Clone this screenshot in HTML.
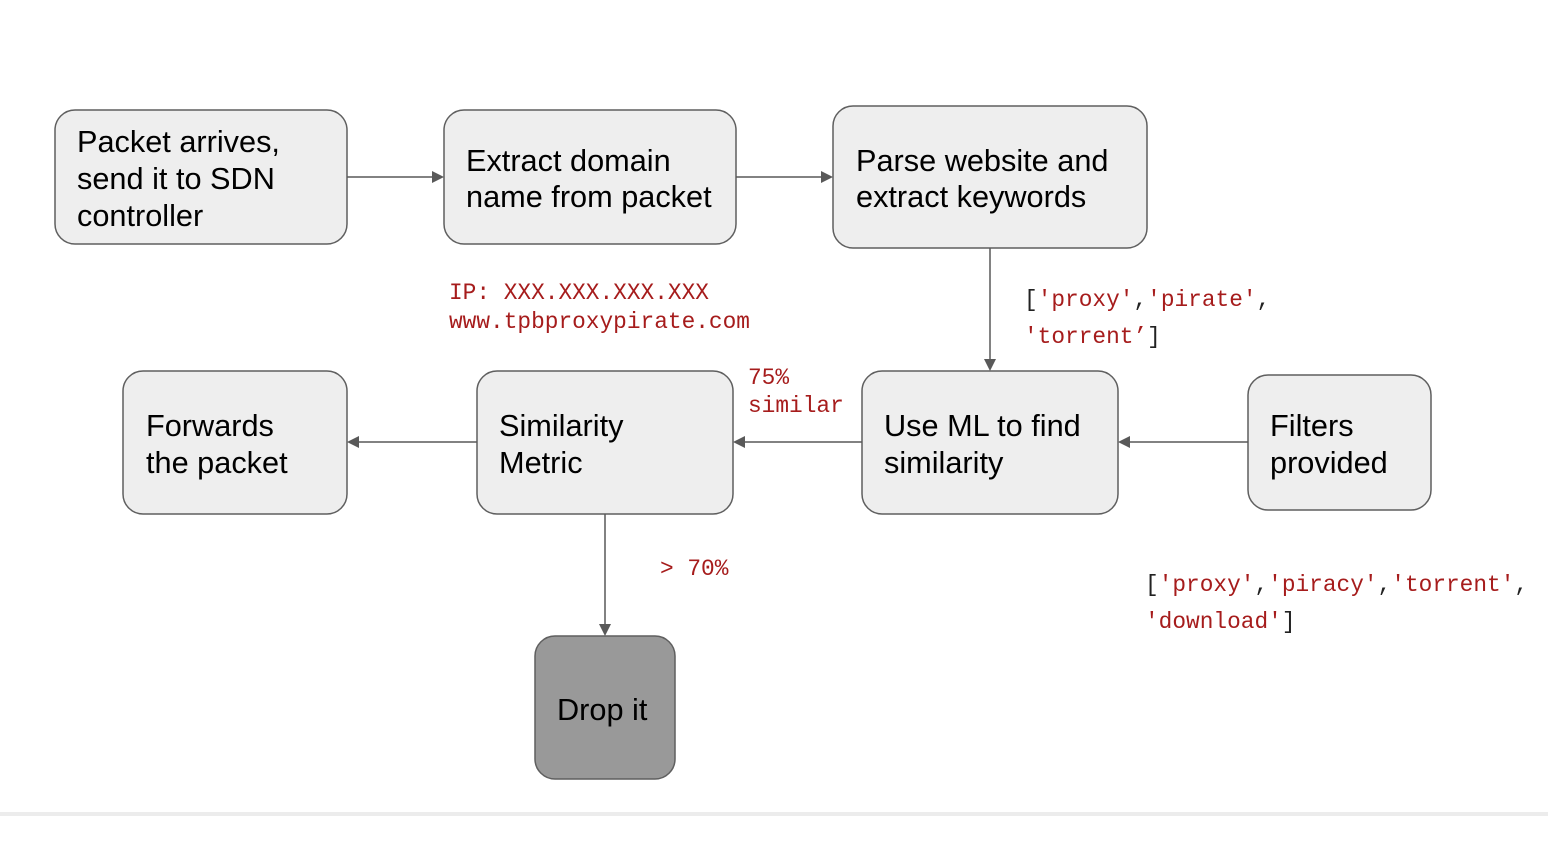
<!DOCTYPE html>
<html><head><style>
html,body{margin:0;padding:0;background:#fff;width:1548px;height:864px;overflow:hidden}
svg{display:block}
.b{fill:#eeeeee;stroke:#5f5f5f;stroke-width:1.5}
.t{font-family:"Liberation Sans",sans-serif;font-size:30.7px;fill:#000}
.m{font-family:"Liberation Mono",monospace;font-size:22.8px;fill:#a61c1c}
.k{fill:#222}
.l{stroke:#595959;stroke-width:1.5;fill:none}
.a{fill:#595959}
</style></head><body>
<svg width="1548" height="864" viewBox="0 0 1548 864">
<rect x="0" y="812" width="1548" height="4" fill="#ececec"/>
<rect class="b" x="55" y="110" width="292" height="134" rx="20"/>
<rect class="b" x="444" y="110" width="292" height="134" rx="20"/>
<rect class="b" x="833" y="106" width="314" height="142" rx="20"/>
<rect class="b" x="862" y="371" width="256" height="143" rx="20"/>
<rect class="b" x="1248" y="375" width="183" height="135" rx="20"/>
<rect class="b" x="477" y="371" width="256" height="143" rx="20"/>
<rect class="b" x="123" y="371" width="224" height="143" rx="20"/>
<rect x="535" y="636" width="140" height="143" rx="20" fill="#999999" stroke="#5f5f5f" stroke-width="1.5"/>
<text class="t" x="77" y="152">Packet arrives,</text>
<text class="t" x="77" y="189">send it to SDN</text>
<text class="t" x="77" y="226">controller</text>
<text class="t" x="466" y="171">Extract domain</text>
<text class="t" x="466" y="207">name from packet</text>
<text class="t" x="856" y="171">Parse website and</text>
<text class="t" x="856" y="207">extract keywords</text>
<text class="t" x="884" y="436">Use ML to find</text>
<text class="t" x="884" y="473">similarity</text>
<text class="t" x="1270" y="436">Filters</text>
<text class="t" x="1270" y="473">provided</text>
<text class="t" x="499" y="436">Similarity</text>
<text class="t" x="499" y="473">Metric</text>
<text class="t" x="146" y="436">Forwards</text>
<text class="t" x="146" y="473">the packet</text>
<text class="t" x="557" y="720">Drop it</text>
<line class="l" x1="347" y1="177" x2="434" y2="177"/><polygon class="a" points="444,177 432,171 432,183"/>
<line class="l" x1="736" y1="177" x2="823" y2="177"/><polygon class="a" points="833,177 821,171 821,183"/>
<line class="l" x1="990" y1="248" x2="990" y2="360"/><polygon class="a" points="990,371 984,359 996,359"/>
<line class="l" x1="1248" y1="442" x2="1128" y2="442"/><polygon class="a" points="1118,442 1130,436 1130,448"/>
<line class="l" x1="862" y1="442" x2="743" y2="442"/><polygon class="a" points="733,442 745,436 745,448"/>
<line class="l" x1="477" y1="442" x2="357" y2="442"/><polygon class="a" points="347,442 359,436 359,448"/>
<line class="l" x1="605" y1="514" x2="605" y2="626"/><polygon class="a" points="605,636 599,624 611,624"/>
<text class="m" x="449" y="299">IP: XXX.XXX.XXX.XXX</text>
<text class="m" x="449" y="328">www.tpbproxypirate.com</text>
<text class="m" x="748" y="384">75%</text>
<text class="m" x="748" y="412">similar</text>
<text class="m" x="660" y="575">&gt; 70%</text>
<text class="m" x="1024" y="306"><tspan class="k">[</tspan>'proxy'<tspan class="k">,</tspan>'pirate'<tspan class="k">,</tspan></text>
<text class="m" x="1024" y="343">'torrent’<tspan class="k">]</tspan></text>
<text class="m" x="1145" y="591"><tspan class="k">[</tspan>'proxy'<tspan class="k">,</tspan>'piracy'<tspan class="k">,</tspan>'torrent'<tspan class="k">,</tspan></text>
<text class="m" x="1145" y="628">'download'<tspan class="k">]</tspan></text>
</svg>
</body></html>
